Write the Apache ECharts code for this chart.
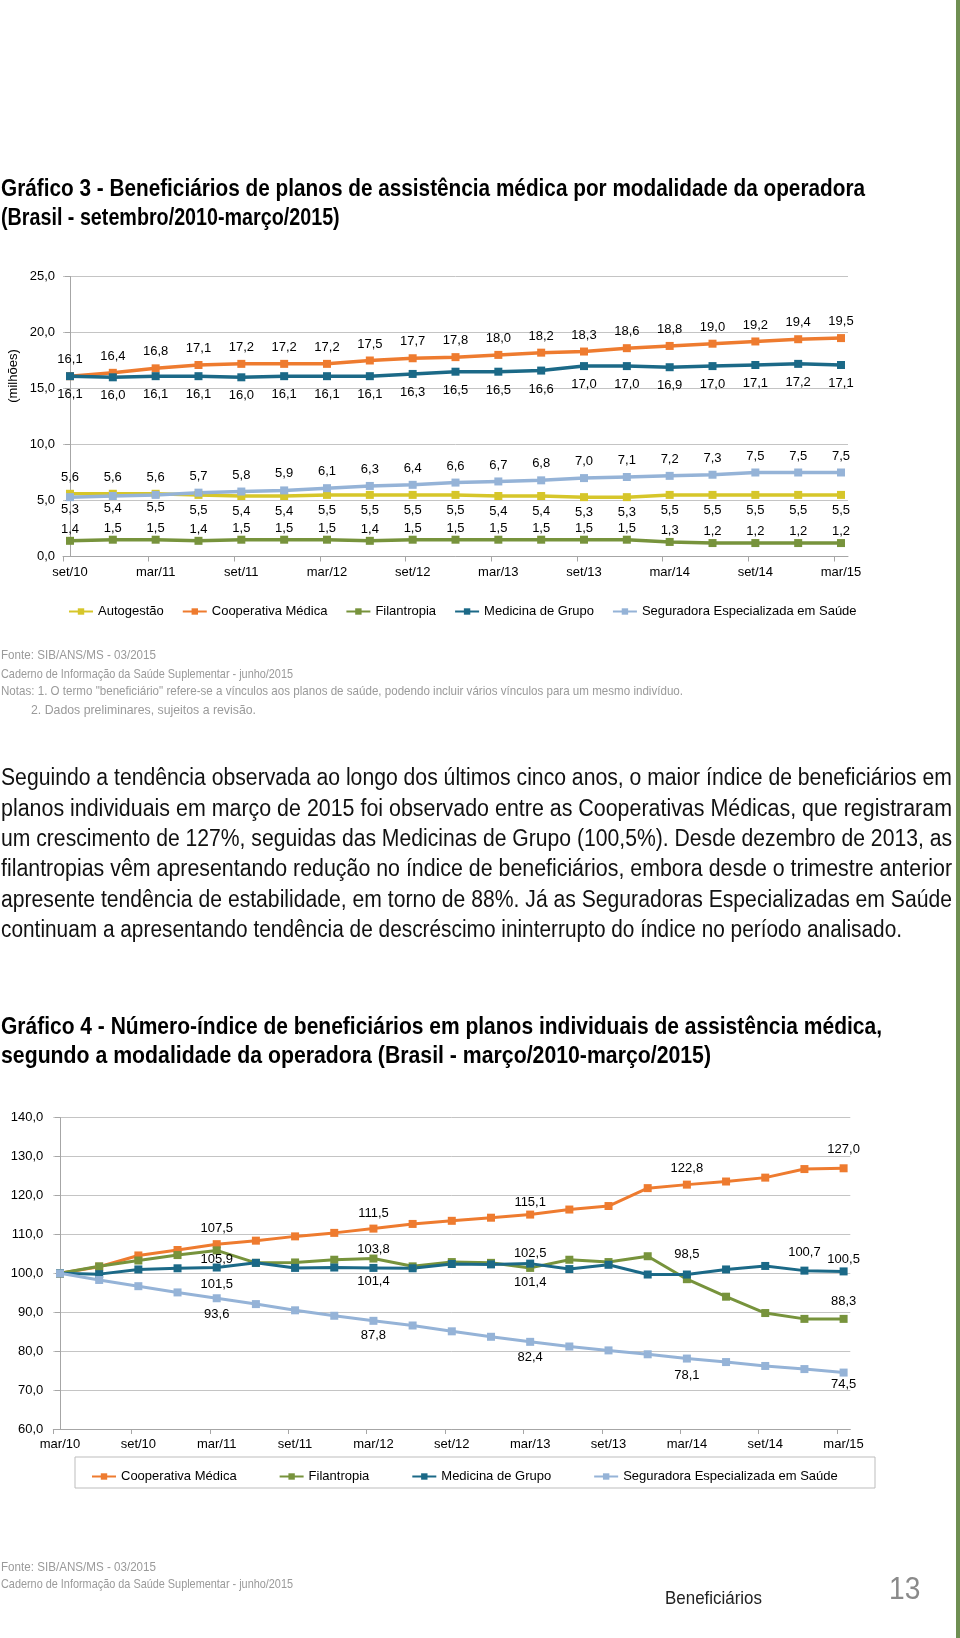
<!DOCTYPE html>
<html>
<head>
<meta charset="utf-8">
<script src="https://cdn.jsdelivr.net/npm/echarts@6.0.0/dist/echarts.min.js"></script>
<style>
html,body{margin:0;padding:0;background:#fff;}
#chart{width:960px;height:1638px;}
</style>
</head>
<body>
<div id="chart"></div>
<script>
// ---------------- DATA ----------------
// Gráfico 3 (milhões)
const cats1 = ['set/10','dez/10','mar/11','jun/11','set/11','dez/11','mar/12','jun/12','set/12','dez/12','mar/13','jun/13','set/13','dez/13','mar/14','jun/14','set/14','dez/14','mar/15'];
const autogestao1  = [5.6,5.6,5.6,5.5,5.4,5.4,5.5,5.5,5.5,5.5,5.4,5.4,5.3,5.3,5.5,5.5,5.5,5.5,5.5];
const cooperativa1 = [16.1,16.4,16.8,17.1,17.2,17.2,17.2,17.5,17.7,17.8,18.0,18.2,18.3,18.6,18.8,19.0,19.2,19.4,19.5];
const filantropia1 = [1.4,1.5,1.5,1.4,1.5,1.5,1.5,1.4,1.5,1.5,1.5,1.5,1.5,1.5,1.3,1.2,1.2,1.2,1.2];
const medicina1    = [16.1,16.0,16.1,16.1,16.0,16.1,16.1,16.1,16.3,16.5,16.5,16.6,17.0,17.0,16.9,17.0,17.1,17.2,17.1];
const seguradora1  = [5.3,5.4,5.5,5.7,5.8,5.9,6.1,6.3,6.4,6.6,6.7,6.8,7.0,7.1,7.2,7.3,7.5,7.5,7.5];
const yMin1 = 0, yMax1 = 25, yStep1 = 5;

// Gráfico 4 (número-índice)
const cats2 = ['mar/10','jun/10','set/10','dez/10','mar/11','jun/11','set/11','dez/11','mar/12','jun/12','set/12','dez/12','mar/13','jun/13','set/13','dez/13','mar/14','jun/14','set/14','dez/14','mar/15'];
const cooperativa2 = [100.0,101.7,104.6,106.0,107.5,108.4,109.5,110.4,111.5,112.7,113.5,114.3,115.1,116.4,117.3,121.9,122.8,123.6,124.6,126.8,127.0];
const filantropia2 = [100.0,101.8,103.3,104.7,105.9,102.7,102.8,103.5,103.8,101.8,102.9,102.7,101.4,103.5,102.9,104.4,98.5,94.0,89.8,88.3,88.3];
const medicina2    = [100.0,99.8,101.0,101.3,101.5,102.7,101.4,101.5,101.4,101.3,102.4,102.3,102.5,101.1,102.2,99.7,99.7,101.0,101.9,100.7,100.5];
const seguradora2  = [100.0,98.3,96.7,95.1,93.6,92.1,90.5,89.1,87.8,86.6,85.1,83.7,82.4,81.2,80.2,79.2,78.1,77.2,76.2,75.4,74.5];
const yMin2 = 60, yMax2 = 140, yStep2 = 10;

const names = {
  auto: 'Autogestão', coop: 'Cooperativa Médica', fil: 'Filantropia',
  med: 'Medicina de Grupo', seg: 'Seguradora Especializada em Saúde'
};

// ---------------- STYLE ----------------
const C = { auto:'#d6c62a', coop:'#ee7b2f', fil:'#77933c', med:'#1b6987', seg:'#95b3d7' };
const FONT = 'Liberation Sans';
const fmt = v => v.toFixed(1).replace('.', ',');

// which points of chart 2 carry labels, and where
const lab2 = {
  coop: {4:['top',5], 8:['top',5], 12:['top',2], 16:['top',6], 20:['top',8]},
  fil:  {4:['bottom',-1], 8:['top',-1], 12:['bottom',4], 16:['top',14], 20:['top',7]},
  med:  {4:['bottom',6], 8:['bottom',3], 12:['top',0], 19:['top',8], 20:['top',1]},
  seg:  {4:['bottom',6], 8:['bottom',4], 12:['bottom',5], 16:['bottom',6], 20:['bottom',1]}
};

const labStyle = { show:true, color:'#000', fontSize:13, fontFamily:FONT, formatter: p => fmt(p.value[1]) };

function lineSeries(key, data, axis, lw, posFn) {
  return {
    type:'line', name:names[key], xAxisIndex:axis, yAxisIndex:axis,
    symbol:'rect', symbolSize:8, color:C[key],
    lineStyle:{ width:lw, color:C[key] }, itemStyle:{ color:C[key] },
    emphasis:{ disabled:true }, animation:false,
    data: data.map((v,i) => {
      const p = posFn(i, v);
      const item = { value:[i, v] };
      item.label = p ? Object.assign({}, labStyle, {position:p[0], distance:p[1]}) : { show:false };
      return item;
    })
  };
}

const series = [
  lineSeries('auto', autogestao1, 0, 3.5, (i,v) => v >= seguradora1[i] ? ['top',6] : ['bottom',5]),
  lineSeries('coop', cooperativa1, 0, 3.5, () => ['top',6]),
  lineSeries('fil',  filantropia1, 0, 3.5, () => ['top',1]),
  lineSeries('med',  medicina1, 0, 3.5, () => ['bottom',8]),
  lineSeries('seg',  seguradora1, 0, 3.5, (i,v) => v > autogestao1[i] ? ['top',6] : ['bottom',2]),
  lineSeries('coop', cooperativa2, 1, 3, (i) => lab2.coop[i]),
  lineSeries('fil',  filantropia2, 1, 3, (i) => lab2.fil[i]),
  lineSeries('med',  medicina2, 1, 3, (i) => lab2.med[i]),
  lineSeries('seg',  seguradora2, 1, 3, (i) => lab2.seg[i])
];

const gridCol = '#c4c4c4', axisCol = '#a6a6a6';
function xAxisCfg(idx, cats, pad) {
  const n = cats.length - 1;
  const ticks = [], labs = [];
  for (let k = 0; k <= n; k += 2) { ticks.push(k - pad); labs.push(k); }
  return {
    type:'value', gridIndex:idx, min:-pad, max:n + pad,
    axisLine:{ show:true, onZero:false, lineStyle:{ color:axisCol, width:1 } },
    axisTick:{ show:true, length:5, customValues:ticks, lineStyle:{ color:axisCol } },
    axisLabel:{ customValues:labs, formatter: v => cats[Math.round(v)], color:'#000', fontSize:13, fontFamily:FONT, margin:9 },
    splitLine:{ show:false }
  };
}
function yAxisCfg(idx, mn, mx, st, margin) {
  return {
    type:'value', gridIndex:idx, min:mn, max:mx, interval:st,
    axisLine:{ show:true, lineStyle:{ color:axisCol } },
    axisTick:{ show:true, length:5, lineStyle:{ color:axisCol } },
    axisLabel:{ formatter: fmt, color:'#000', fontSize:13, fontFamily:FONT, margin:margin },
    splitLine:{ show:true, lineStyle:{ color:gridCol, width:1 } }
  };
}

// ------------- TEXT -------------
const meas = document.createElement('canvas').getContext('2d');
function textW(str, size, weight) {
  meas.font = `${weight} ${size}px "${FONT}"`;
  return meas.measureText(str).width;
}
function txt(str, x, y, size, weight, color, sx, extra) {
  return Object.assign({
    type:'text', x:x, y:y, scaleX:sx, silent:true,
    style:{ text:str, fontSize:size, fontWeight:weight, fontFamily:FONT, fill:color, align:'left', verticalAlign:'middle' }
  }, extra || {});
}
function fit(str, x, y, size, weight, color, width) {
  return txt(str, x, y, size, weight, color, width / textW(str, size, weight));
}

const els = [];
// right green border
els.push({ type:'rect', shape:{ x:956, y:0, width:4, height:1638 }, style:{ fill:'#6f8f52' }, silent:true });

// Title Gráfico 3
const t3 = ['Gráfico 3 - Beneficiários de planos de assistência médica por modalidade da operadora', '(Brasil - setembro/2010-março/2015)'];
const t3s = 864 / textW(t3[0], 23, 'bold');
els.push(txt(t3[0], 1, 190, 23, 'bold', '#000', t3s));
els.push(txt(t3[1], 1, 219, 23, 'bold', '#000', t3s * 0.95));

// (milhões)
els.push({ type:'text', x:13, y:376, rotation:Math.PI/2, silent:true,
  style:{ text:'(milhões)', fontSize:13, fontFamily:FONT, fill:'#000', align:'center', verticalAlign:'middle' } });

// Notes chart 3
const notes = ['Fonte: SIB/ANS/MS - 03/2015', 'Caderno de Informação da Saúde Suplementar - junho/2015',
  'Notas: 1. O termo "beneficiário" refere-se a vínculos aos planos de saúde, podendo incluir vários vínculos para um mesmo indivíduo.',
  '2. Dados preliminares, sujeitos a revisão.'];
const noteCol = '#9a9a9a';
els.push(fit(notes[0], 1, 655, 13, 'normal', noteCol, 155));
els.push(fit(notes[1], 1, 674, 13, 'normal', noteCol, 292));
els.push(fit(notes[2], 1, 691, 13, 'normal', noteCol, 682));
els.push(fit(notes[3], 31, 710, 13, 'normal', noteCol, 225));

// Paragraph
const para = [
  'Seguindo a tendência observada ao longo dos últimos cinco anos, o maior índice de beneficiários em',
  'planos individuais em março de 2015 foi observado entre as Cooperativas Médicas, que registraram',
  'um crescimento de 127%, seguidas das Medicinas de Grupo (100,5%). Desde dezembro de 2013, as',
  'filantropias vêm apresentando redução no índice de beneficiários, embora desde o trimestre anterior',
  'apresente tendência de estabilidade, em torno de 88%. Já as Seguradoras Especializadas em Saúde',
  'continuam a apresentando tendência de descréscimo ininterrupto do índice no período analisado.'
];
const paraY = [779, 809.5, 840, 870, 900.5, 931];
const paraW = [951, 951, 951, 951, 951, 901];
para.forEach((l, i) => els.push(fit(l, 1, paraY[i], 23, 'normal', '#111', paraW[i])));

// Title Gráfico 4
const t4 = ['Gráfico 4 - Número-índice de beneficiários em planos individuais de assistência médica,', 'segundo a modalidade da operadora (Brasil - março/2010-março/2015)'];
els.push(fit(t4[0], 1, 1028, 23, 'bold', '#000', 881));
els.push(fit(t4[1], 1, 1057, 23, 'bold', '#000', 710));

// legend box chart 4
els.push({ type:'rect', shape:{ x:75, y:1457, width:800, height:31 }, style:{ fill:'#fff', stroke:'#bdbdbd', lineWidth:1 }, silent:true, z:-1 });

// Footer
els.push(fit(notes[0], 1, 1567, 13, 'normal', noteCol, 155));
els.push(fit(notes[1], 1, 1584, 13, 'normal', noteCol, 292));
els.push(fit('Beneficiários', 665, 1599, 19, 'normal', '#222', 97));
els.push(txt('13', 889, 1590, 32, 'normal', '#8a8a8a', 0.88));

const option = {
  backgroundColor:'#fff',
  animation:false,
  textStyle:{ fontFamily:FONT },
  grid:[
    { left:63, top:276.5, width:785, height:280, containLabel:false },
    { left:53.3, top:1117.7, width:797, height:311.3, containLabel:false }
  ],
  xAxis:[ xAxisCfg(0, cats1, 0.163), xAxisCfg(1, cats2, 0.171) ],
  yAxis:[ yAxisCfg(0, yMin1, yMax1, yStep1, 8), yAxisCfg(1, yMin2, yMax2, yStep2, 10) ],
  legend:[
    { data:[names.auto, names.coop, names.fil, names.med, names.seg], left:63, top:600,
      itemWidth:24, itemHeight:8, itemGap:18, selectedMode:false,
      textStyle:{ color:'#000', fontSize:13, fontFamily:FONT } },
    { data:[names.coop, names.fil, names.med, names.seg], left:86, top:1465,
      itemWidth:24, itemHeight:8, itemGap:42, selectedMode:false,
      textStyle:{ color:'#000', fontSize:13, fontFamily:FONT } }
  ],
  graphic:{ elements: els },
  series: series
};

const chart = echarts.init(document.getElementById('chart'), null, { renderer:'canvas' });
chart.setOption(option);
</script>
</body>
</html>
